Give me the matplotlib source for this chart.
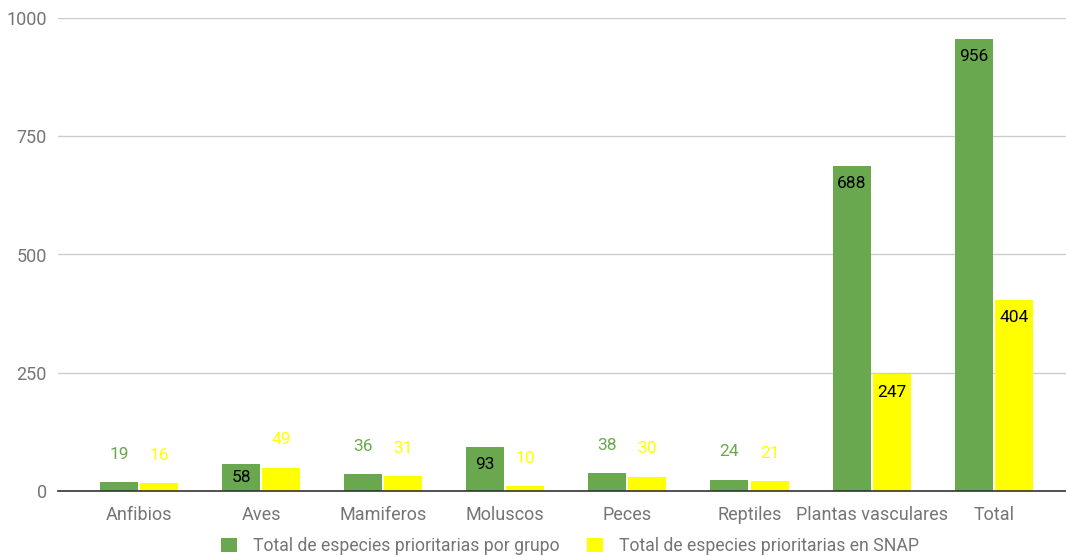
"""Especies prioritarias por grupo vs. en SNAP, grouped bar chart."""

import matplotlib
import matplotlib.pyplot as plt
import numpy as np
from matplotlib.patches import Patch

matplotlib.use("Agg")

plt.rcParams["font.family"] = ["Roboto", "DejaVu Sans"]

# ---------------------------------------------------------------------------
# Data
# ---------------------------------------------------------------------------

categories = ["Anfibios", "Aves", "Mamiferos", "Moluscos", "Peces", "Reptiles",
              "Plantas vasculares", "Total"]
por_grupo = [19, 58, 36, 93, 38, 24, 688, 956]
en_snap = [16, 49, 31, 10, 30, 21, 247, 404]
series_names = ["Total de especies prioritarias por grupo",
                "Total de especies prioritarias en SNAP"]
y_ticks = [0, 250, 500, 750, 1000]

GREEN = "#6aa84f"
YELLOW = "#ffff00"
GREY = "#757575"

# ---------------------------------------------------------------------------
# Figure
# ---------------------------------------------------------------------------

fig = plt.figure(figsize=(10.66, 5.56), dpi=100)
ax = fig.add_axes([58 / 1066, 65 / 556, 1008 / 1066, 473 / 556])

x = np.arange(len(categories))
width = 0.311
offset = 0.164

for vals, dx, colour in [(por_grupo, -offset, GREEN), (en_snap, offset, YELLOW)]:
    ax.bar(x + dx, vals, width=width, color=colour, zorder=3)
    for xi, v in zip(x + dx, vals):
        if v > 50:
            # label inside the bar, near its top
            ax.text(xi, max(v - 38, v / 2), str(v), ha="center", va="center",
                    fontsize=12.5, color="black", zorder=4)
        else:
            ax.text(xi, v + 59, str(v), ha="center", va="center",
                    fontsize=12.5, color=colour, zorder=4)

ax.set_xlim(-0.663, 7.592)
ax.set_ylim(0, 1000)
ax.set_yticks(y_ticks)
ax.set_xticks(x)
ax.set_xticklabels(categories)
ax.tick_params(axis="both", length=0, labelsize=13, labelcolor=GREY)
ax.tick_params(axis="y", pad=8)
ax.tick_params(axis="x", pad=11)

ax.grid(axis="y", color="#cccccc", linewidth=1, zorder=0)
for side in ["top", "right", "left"]:
    ax.spines[side].set_visible(False)
ax.spines["bottom"].set_color("#333333")
ax.spines["bottom"].set_linewidth(1.2)
ax.spines["bottom"].set_zorder(5)

handles = [Patch(facecolor=GREEN, label=series_names[0]),
           Patch(facecolor=YELLOW, label=series_names[1])]
fig.legend(handles=handles, loc="center", bbox_to_anchor=(570 / 1066, 10 / 556),
           ncol=2, frameon=False, fontsize=12.7, labelcolor=GREY,
           handlelength=0.9, handleheight=0.9, handletextpad=0.9, columnspacing=1.6,
           borderpad=0)

fig.savefig("out.png", dpi=100)
plt.close(fig)
